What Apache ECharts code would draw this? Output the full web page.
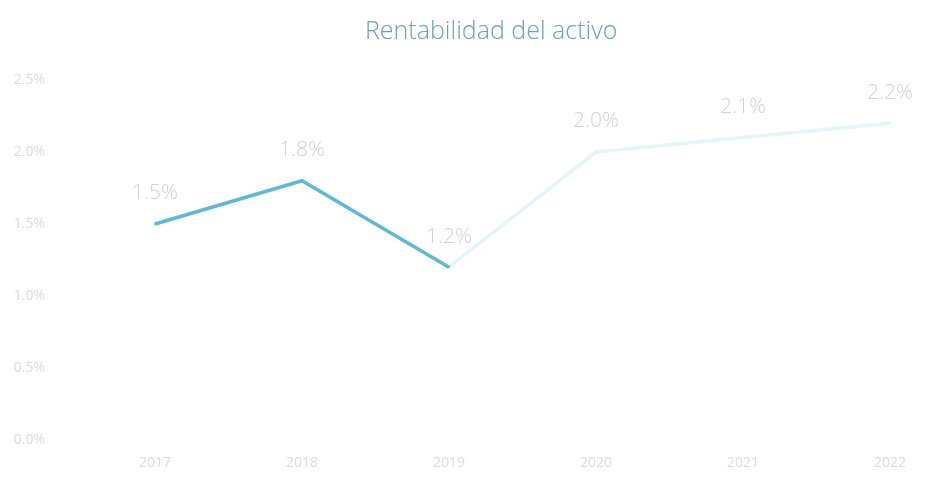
<!DOCTYPE html>
<html>
<head>
<meta charset="utf-8">
<script src="https://cdn.jsdelivr.net/npm/echarts@6/dist/echarts.min.js"></script>
<style>
  html, body { margin: 0; padding: 0; background: #ffffff; }
  #chart { width: 925px; height: 495px; }
</style>
</head>
<body>
<div id="chart"></div>
<script>
// Return on assets by year
const years = ['2017', '2018', '2019', '2020', '2021', '2022'];
const roa = [1.5, 1.8, 1.2, 2.0, 2.1, 2.2];
const yTicks = { min: 0, max: 2.5, step: 0.5 };

// The first three years are drawn in full colour, the later ones faded.
const splitAt = 2;
const solidPart = roa.map((v, i) => (i <= splitAt ? v : '-'));
const fadedPart = roa.map((v, i) => (i >= splitAt ? v : '-'));

const solidColor = '#5cb9d8';
const fadedColor = '#e4f4f8';

const labelStyle = {
  show: true,
  position: 'top',
  distance: 19,
  fontFamily: 'Open Sans',
  fontWeight: 300,
  fontSize: 21,
  color: '#d2d2d2',
  formatter: p => p.value.toFixed(1) + '%'
};

const chart = echarts.init(document.getElementById('chart'));
chart.setOption({
  backgroundColor: '#ffffff',
  title: {
    text: 'Rentabilidad del activo',
    left: 360,
    top: 14,
    textStyle: {
      fontFamily: 'Open Sans',
      fontWeight: 300,
      fontSize: 25,
      color: '#6ea2b1'
    }
  },
  grid: { left: 155, right: 35, top: 80, bottom: 55 },
  xAxis: {
    type: 'category',
    data: years,
    boundaryGap: false,
    axisLine: { show: false },
    axisTick: { show: false },
    axisLabel: {
      margin: 16,
      fontFamily: 'Open Sans',
      fontSize: 14,
      color: '#dcdcdc'
    }
  },
  yAxis: {
    type: 'value',
    min: yTicks.min,
    max: yTicks.max,
    interval: yTicks.step,
    axisLine: { show: false },
    axisTick: { show: false },
    splitLine: { show: false },
    axisLabel: {
      margin: 110,
      fontFamily: 'Open Sans',
      fontSize: 14,
      color: '#dcdcdc',
      formatter: v => v.toFixed(1) + '%'
    }
  },
  series: [
    {
      type: 'line',
      data: solidPart,
      symbol: 'circle',
      symbolSize: 2,
      showSymbol: true,
      showAllSymbol: true,
      z: 3,
      itemStyle: { color: solidColor },
      lineStyle: { width: 3.5, color: solidColor },
      label: labelStyle
    },
    {
      type: 'line',
      data: fadedPart,
      symbol: 'circle',
      symbolSize: 2,
      showSymbol: true,
      showAllSymbol: true,
      z: 2,
      itemStyle: { color: fadedColor },
      lineStyle: { width: 3.5, color: fadedColor },
      label: {
        ...labelStyle,
        formatter: p => (p.dataIndex > splitAt ? p.value.toFixed(1) + '%' : '')
      }
    }
  ]
});
</script>
</body>
</html>
